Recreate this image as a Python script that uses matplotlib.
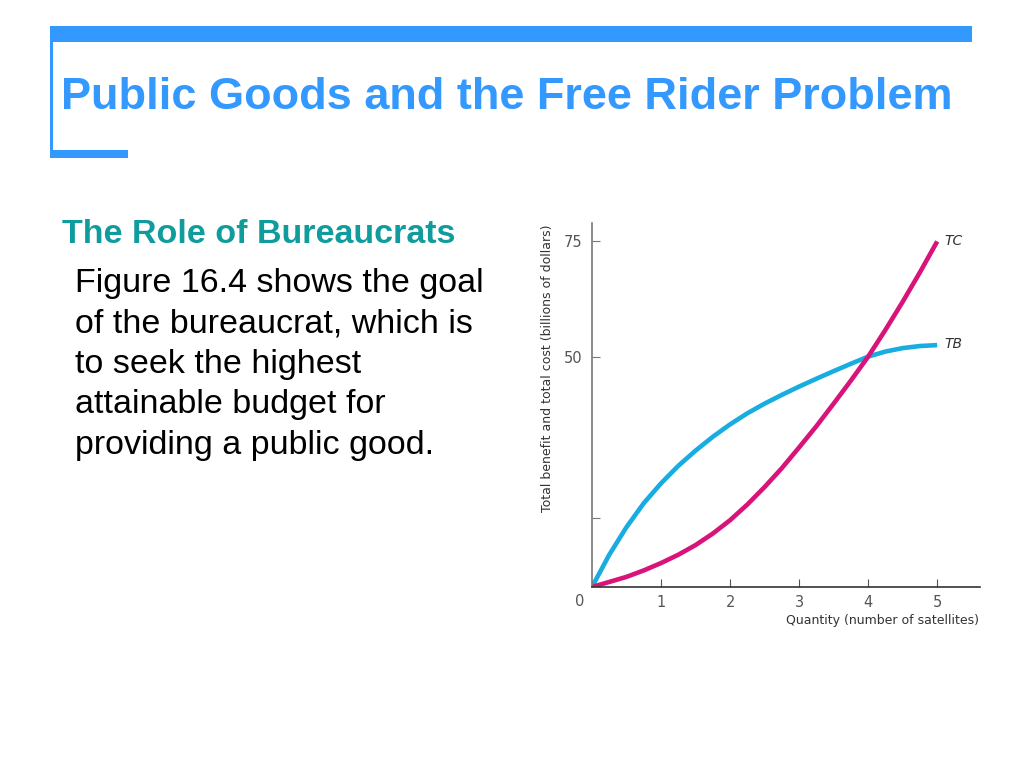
import matplotlib
matplotlib.use("Agg")
import matplotlib.pyplot as plt
from matplotlib.patches import Rectangle

# values (billions of dollars), every quarter satellite
quantity = [0, 0.25, 0.5, 0.75, 1, 1.25, 1.5, 1.75, 2, 2.25, 2.5,
            2.75, 3, 3.25, 3.5, 3.75, 4, 4.25, 4.5, 4.75, 5]
total_benefit = [0, 7, 13, 18.2, 22.5, 26.3, 29.6, 32.6, 35.3, 37.7, 39.8,
                 41.7, 43.5, 45.2, 46.85, 48.45, 50, 51.1, 51.85, 52.3, 52.5]
total_cost = [0, 1.1, 2.2, 3.6, 5.2, 7.0, 9.1, 11.6, 14.5, 17.9, 21.7,
              25.8, 30.3, 34.9, 39.8, 44.8, 50, 55.8, 61.9, 68.3, 75]

x_ticks = [1, 2, 3, 4, 5]
y_ticks = [15, 50, 75]
y_tick_labels = ["", "50", "75"]

title = "Public Goods and the Free Rider Problem"
subtitle = "The Role of Bureaucrats"
body = ["Figure 16.4 shows the goal",
        "of the bureaucrat, which is",
        "to seek the highest",
        "attainable budget for",
        "providing a public good."]

blue = "#3399ff"
teal = "#109c9c"
tb_color = "#17ade0"
tc_color = "#d8137a"
grey = "#555555"

W, H = 1024, 768
fig = plt.figure(figsize=(W / 100, H / 100), dpi=100)

def px(x, y):
    # figure pixel -> figure fraction
    return x / W, 1 - y / H

# slide frame
fig.patches.append(Rectangle(px(50, 42), 922 / W, 16 / H, transform=fig.transFigure,
                             color=blue, lw=0))
fig.patches.append(Rectangle(px(50, 158), 3 / W, 132 / H, transform=fig.transFigure,
                             color=blue, lw=0))
fig.patches.append(Rectangle(px(50, 158), 78 / W, 8 / H, transform=fig.transFigure,
                             color=blue, lw=0))

fig.text(*px(61, 109), title, color=blue, fontsize=32.5, fontweight="bold",
         family="Liberation Sans", va="baseline", ha="left")
fig.text(*px(62, 243), subtitle, color=teal, fontsize=24.5, fontweight="bold",
         family="Liberation Sans", va="baseline", ha="left")
for i, line in enumerate(body):
    fig.text(*px(75, 292 + i * 40.5), line, color="black", fontsize=24.5,
             family="Liberation Sans", va="baseline", ha="left")

# chart
ax = fig.add_axes([592 / W, 1 - 587 / H, (980 - 592) / W, (587 - 223) / H])
ax.plot(quantity, total_benefit, color=tb_color, lw=3.3, solid_capstyle="butt",
        solid_joinstyle="round")
ax.plot(quantity, total_cost, color=tc_color, lw=3.3, solid_capstyle="butt",
        solid_joinstyle="round")
ax.set_xlim(0, 5.62)
ax.set_ylim(0, 79)

for s in ["top", "right"]:
    ax.spines[s].set_visible(False)
ax.spines["left"].set_color("#777777")
ax.spines["bottom"].set_color("#333333")
ax.spines["left"].set_linewidth(1.2)
ax.spines["bottom"].set_linewidth(1.2)

ax.set_xticks(x_ticks)
ax.set_xticklabels([str(t) for t in x_ticks])
ax.set_yticks(y_ticks)
ax.set_yticklabels(y_tick_labels)
ax.tick_params(axis="x", direction="in", length=6, colors="#555555",
               labelsize=10.5, pad=6)
ax.tick_params(axis="y", direction="in", length=6, colors="#777777",
               labelsize=10.5, labelcolor=grey, pad=7)
ax.text(-0.02, -0.02, "0", transform=ax.transAxes, ha="right", va="top",
        fontsize=10.5, color=grey)

ax.text(0.998, -0.075, "Quantity (number of satellites)", transform=ax.transAxes,
        ha="right", va="top", fontsize=9, color="#333333")
ax.text(-0.115, 0.995, "Total benefit and total cost (billions of dollars)",
        transform=ax.transAxes, rotation=90, ha="center", va="top",
        fontsize=9, color="#333333")

ax.text(quantity[-1] + 0.1, total_cost[-1], "TC", style="italic", fontsize=10,
        color="#333333", va="center", ha="left")
ax.text(quantity[-1] + 0.1, total_benefit[-1] + 0.3, "TB", style="italic",
        fontsize=10, color="#333333", va="center", ha="left")

fig.savefig("out.png", dpi=100)
